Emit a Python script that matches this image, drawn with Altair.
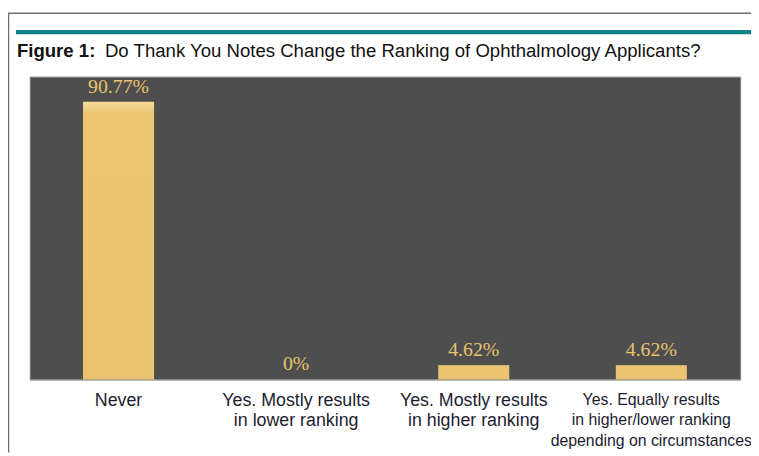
import altair as alt
import pandas as pd

categories = [
    "Never",
    "Yes. Mostly results|in lower ranking",
    "Yes. Mostly results|in higher ranking",
    "Yes. Equally results|in higher/lower ranking|depending on circumstances",
]
values = [90.77, 0, 4.62, 4.62]
value_labels = ["90.77%", "0%", "4.62%", "4.62%"]

title_bold = "Figure 1:"
title_rest = "Do Thank You Notes Change the Ranking of Ophthalmology Applicants?"

df = pd.DataFrame({"cat": categories, "value": values, "label": value_labels})

W, H = 718, 306

xenc = alt.X(
    "cat:N",
    sort=categories,
    scale=alt.Scale(paddingInner=0.6, paddingOuter=0.3),
    axis=alt.Axis(
        title=None,
        labelAngle=0,
        labelExpr="split(datum.label, '|')",
        labelFont="Liberation Sans",
        labelFontSize={
            "condition": {"test": "indexof(datum.value, 'Equally') >= 0", "value": 16},
            "value": 18,
        },
        labelColor="#1c1c30",
        labelLineHeight=21,
        labelBaseline="top",
        labelPadding=12,
        labelLimit=400,
        labelOverlap=False,
        ticks=False,
        domainColor="#9a9a9a",
        domainWidth=1,
        grid=False,
    ),
)
yenc = alt.Y("value:Q", scale=alt.Scale(domain=[0, 99]), axis=None)

base = alt.Chart(df)

bars = base.mark_bar(
    color=alt.Gradient(
        gradient="linear",
        x1=0, x2=0, y1=0, y2=1,
        stops=[
            alt.GradientStop(color="#f6dc97", offset=0),
            alt.GradientStop(color="#ecc573", offset=0.04),
            alt.GradientStop(color="#ebc471", offset=1),
        ],
    ),
).encode(x=xenc, y=yenc)

texts = base.mark_text(
    font="Liberation Serif",
    fontSize=20,
    color="#e8c46f",
    baseline="alphabetic",
    dy=-9,
).encode(x=xenc, y=yenc, text="label:N")

deco = alt.Chart(pd.DataFrame({"d": [0]}))

title1 = deco.mark_text(
    font="Liberation Sans", fontSize=18.8, fontWeight="bold", color="#111111",
    align="left", baseline="alphabetic",
).encode(x=alt.value(-13), y=alt.value(-20), text=alt.value(title_bold))

title2 = deco.mark_text(
    font="Liberation Sans", fontSize=18.8, color="#111111",
    align="left", baseline="alphabetic",
).encode(x=alt.value(76), y=alt.value(-20), text=alt.value(title_rest))

teal = deco.mark_rule(color="#0e8488", strokeWidth=4.5).encode(
    x=alt.value(-14), x2=alt.value(735), y=alt.value(-45)
)
top_border = deco.mark_rule(color="#6e6e6e", strokeWidth=1.5).encode(
    x=alt.value(-22), x2=alt.value(735), y=alt.value(-64)
)
left_border = deco.mark_rule(color="#6e6e6e", strokeWidth=1.5).encode(
    x=alt.value(-21.5), y=alt.value(-64), y2=alt.value(380)
)

chart = (
    alt.layer(top_border, left_border, teal, title1, title2, bars, texts)
    .properties(
        width=W,
        height=H,
        autosize=alt.AutoSizeParams(type="none"),
        padding={"left": 22, "top": 67, "right": 11, "bottom": 72},
        background="white",
    )
    .configure_view(fill="#4e4e4e", stroke="#7c7c7c", strokeWidth=1)
)

chart.save("out.html", embed_options={"renderer": "svg", "actions": False})
